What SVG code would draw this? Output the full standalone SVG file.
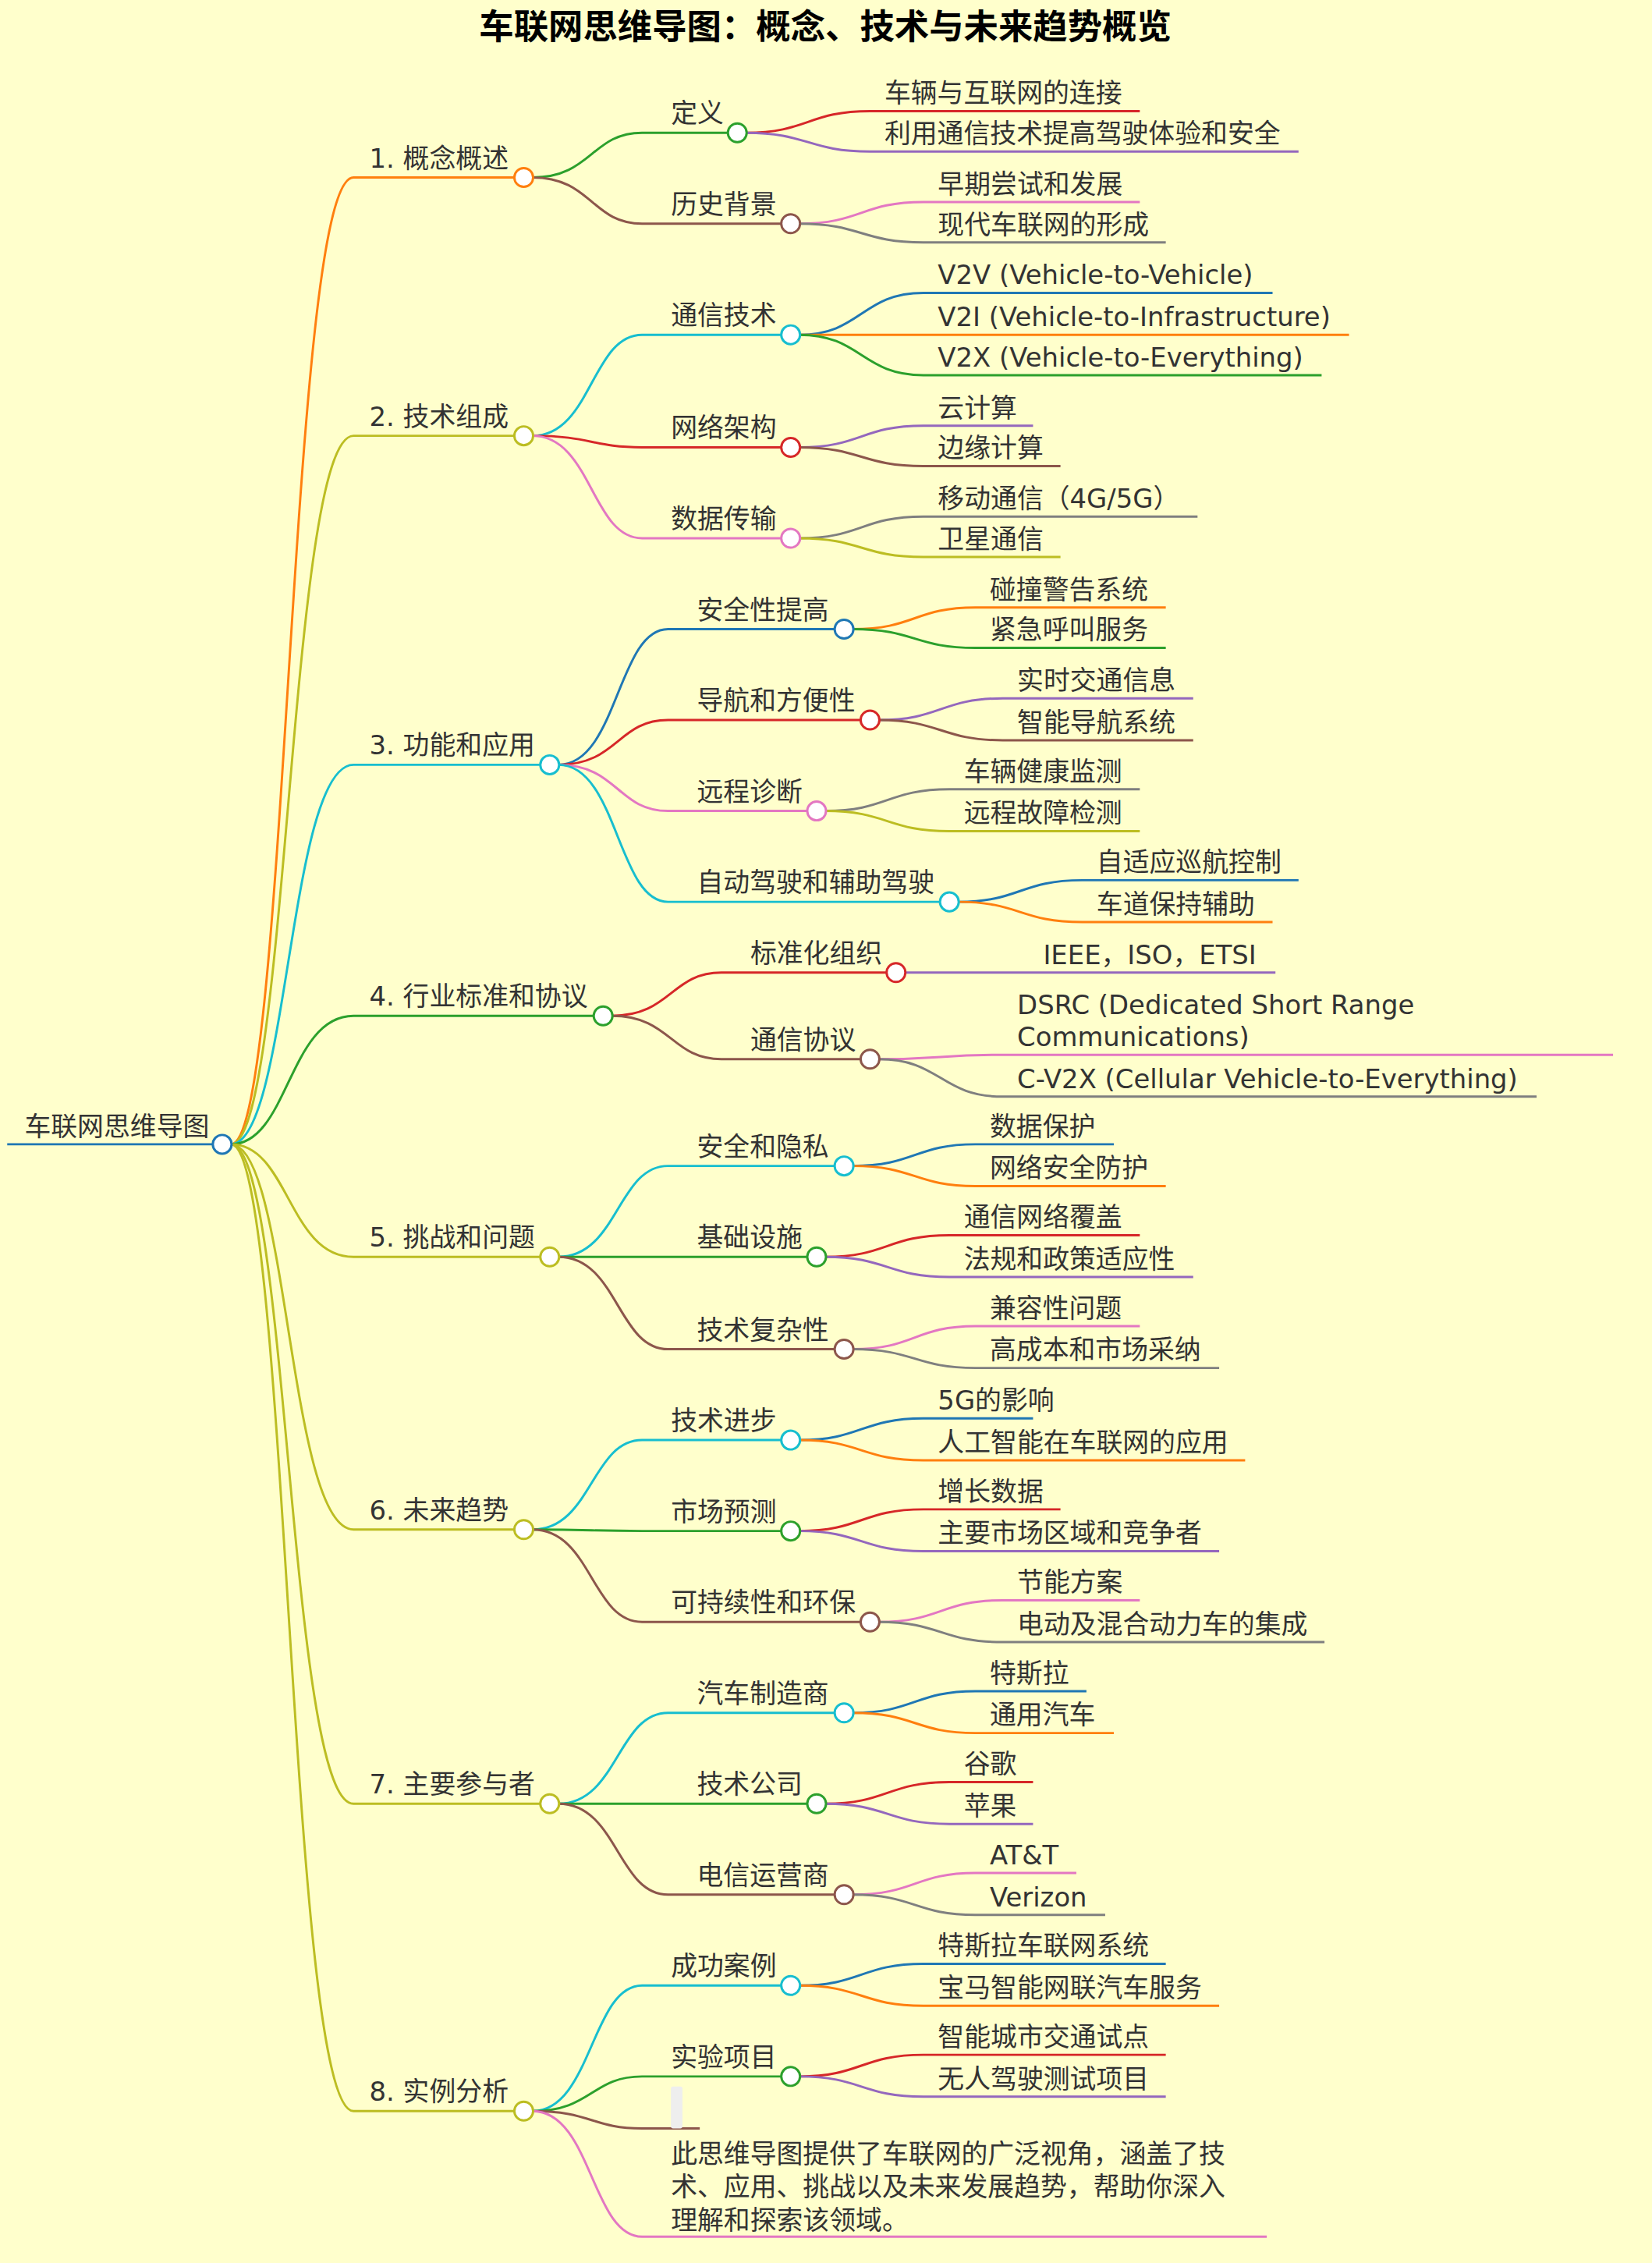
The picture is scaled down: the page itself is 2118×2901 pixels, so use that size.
<svg xmlns="http://www.w3.org/2000/svg" width="2118" height="2901" viewBox="0 0 2118 2901">
<style>
text{font-family:"DejaVu Sans","Noto Sans CJK SC",sans-serif;font-size:18.3px;fill:#333}
.t{font-family:"Noto Sans CJK SC",sans-serif;font-size:24px;font-weight:bold;fill:#000;text-anchor:middle}
path{fill:none;stroke-width:1.6}
circle{fill:#fff;stroke-width:1.6}
.bl{stroke:#1f77b4}.or{stroke:#ff7f0e}.gr{stroke:#2ca02c}.rd{stroke:#d62728}.pu{stroke:#9467bd}.br{stroke:#8c564b}.pk{stroke:#e377c2}.gy{stroke:#7f7f7f}.ol{stroke:#bcbd22}.cy{stroke:#17becf}
</style>
<rect width="2118" height="2901" fill="#ffffcc"/>
<g transform="scale(1.8498)">
<text class="t" x="572" y="27">车联网思维导图：概念、技术与未来趋势概览</text>
<g id="connectors">
<path class="bl" d="M5,793H154"/>
<path class="or" d="M160,793C200,793 200,123 245,123H357"/>
<path class="ol" d="M160,793C200,793 200,302 245,302H357"/>
<path class="cy" d="M160,793C200,793 200,530 245,530H375"/>
<path class="gr" d="M160,793C200,793 200,704 245,704H412"/>
<path class="ol" d="M160,793C200,793 200,871 245,871H375"/>
<path class="ol" d="M160,793C200,793 200,1060 245,1060H357"/>
<path class="ol" d="M160,793C200,793 200,1250 245,1250H375"/>
<path class="ol" d="M160,793C200,793 200,1463 245,1463H357"/>
<path class="gr" d="M369,123C410,123 410,92 445,92H505"/>
<path class="br" d="M369,123C410,123 410,155 445,155H542"/>
<path class="rd" d="M517,92C560,92 560,77 603,77H790"/>
<path class="pu" d="M517,92C560,92 560,105 603,105H900"/>
<path class="pk" d="M554,155C597,155 597,140 640,140H790"/>
<path class="gy" d="M554,155C597,155 597,168 640,168H808"/>
<path class="cy" d="M369,302C410,302 410,232 445,232H542"/>
<path class="rd" d="M369,302C410,302 410,310 445,310H542"/>
<path class="pk" d="M369,302C410,302 410,373 445,373H542"/>
<path class="bl" d="M554,232C597,232 597,203 640,203H882"/>
<path class="or" d="M554,232C597,232 597,232 640,232H935"/>
<path class="gr" d="M554,232C597,232 597,260 640,260H916"/>
<path class="pu" d="M554,310C597,310 597,295 640,295H716"/>
<path class="br" d="M554,310C597,310 597,323 640,323H735"/>
<path class="gy" d="M554,373C597,373 597,358 640,358H830"/>
<path class="ol" d="M554,373C597,373 597,386 640,386H735"/>
<path class="bl" d="M387,530C428,530 428,436 463,436H579"/>
<path class="rd" d="M387,530C428,530 428,499 463,499H597"/>
<path class="pk" d="M387,530C428,530 428,562 463,562H560"/>
<path class="cy" d="M387,530C428,530 428,625 463,625H652"/>
<path class="or" d="M591,436C634,436 634,421 676,421H808"/>
<path class="gr" d="M591,436C634,436 634,449 676,449H808"/>
<path class="pu" d="M609,499C652,499 652,484 695,484H827"/>
<path class="br" d="M609,499C652,499 652,513 695,513H827"/>
<path class="gy" d="M572,562C615,562 615,547 658,547H790"/>
<path class="ol" d="M572,562C615,562 615,576 658,576H790"/>
<path class="bl" d="M664,625C707,625 707,610 750,610H900"/>
<path class="or" d="M664,625C707,625 707,639 750,639H882"/>
<path class="rd" d="M424,704C465,704 465,674 500,674H615"/>
<path class="br" d="M424,704C465,704 465,734 500,734H597"/>
<path class="pu" d="M627,674H884"/>
<path class="pk" d="M609,734C652,734 652,731 695,731H1118"/>
<path class="gy" d="M609,734C652,734 652,760 695,760H1065"/>
<path class="cy" d="M387,871C428,871 428,808 463,808H579"/>
<path class="gr" d="M387,871C428,871 428,871 463,871H560"/>
<path class="br" d="M387,871C428,871 428,935 463,935H579"/>
<path class="bl" d="M591,808C634,808 634,793 676,793H772"/>
<path class="or" d="M591,808C634,808 634,822 676,822H808"/>
<path class="rd" d="M572,871C615,871 615,856 658,856H790"/>
<path class="pu" d="M572,871C615,871 615,885 658,885H827"/>
<path class="pk" d="M591,935C634,935 634,919 676,919H790"/>
<path class="gy" d="M591,935C634,935 634,948 676,948H845"/>
<path class="cy" d="M369,1060C410,1060 410,998 445,998H542"/>
<path class="gr" d="M369,1060C410,1060 410,1061 445,1061H542"/>
<path class="br" d="M369,1060C410,1060 410,1124 445,1124H597"/>
<path class="bl" d="M554,998C597,998 597,983 640,983H716"/>
<path class="or" d="M554,998C597,998 597,1012 640,1012H863"/>
<path class="rd" d="M554,1061C597,1061 597,1046 640,1046H735"/>
<path class="pu" d="M554,1061C597,1061 597,1075 640,1075H845"/>
<path class="pk" d="M609,1124C652,1124 652,1109 695,1109H790"/>
<path class="gy" d="M609,1124C652,1124 652,1138 695,1138H918"/>
<path class="cy" d="M387,1250C428,1250 428,1187 463,1187H579"/>
<path class="gr" d="M387,1250C428,1250 428,1250 463,1250H560"/>
<path class="br" d="M387,1250C428,1250 428,1313 463,1313H579"/>
<path class="bl" d="M591,1187C634,1187 634,1172 676,1172H753"/>
<path class="or" d="M591,1187C634,1187 634,1201 676,1201H772"/>
<path class="rd" d="M572,1250C615,1250 615,1235 658,1235H716"/>
<path class="pu" d="M572,1250C615,1250 615,1264 658,1264H716"/>
<path class="pk" d="M591,1313C634,1313 634,1298 676,1298H746"/>
<path class="gy" d="M591,1313C634,1313 634,1327 676,1327H766"/>
<path class="cy" d="M369,1463C410,1463 410,1376 445,1376H542"/>
<path class="gr" d="M369,1463C410,1463 410,1439 445,1439H542"/>
<path class="br" d="M369,1463C410,1463 410,1475 445,1475H485"/>
<path class="pk" d="M369,1463C410,1463 410,1550 445,1550H878"/>
<path class="bl" d="M554,1376C597,1376 597,1361 640,1361H808"/>
<path class="or" d="M554,1376C597,1376 597,1390 640,1390H845"/>
<path class="rd" d="M554,1439C597,1439 597,1424 640,1424H808"/>
<path class="pu" d="M554,1439C597,1439 597,1453 640,1453H808"/>
</g>
<g id="root"><text x="17" y="787">车联网思维导图</text><circle class="bl" cx="154" cy="793" r="6.5"/></g>
<g id="n1"><text x="256" y="116">1. 概念概述</text><circle class="or" cx="363" cy="123" r="6.5"/></g>
<g id="n1a"><text x="465" y="85">定义</text><circle class="gr" cx="511" cy="92" r="6.5"/></g>
<g id="n1a1"><text x="613" y="71">车辆与互联网的连接</text></g>
<g id="n1a2"><text x="613" y="99">利用通信技术提高驾驶体验和安全</text></g>
<g id="n1b"><text x="465" y="148">历史背景</text><circle class="br" cx="548" cy="155" r="6.5"/></g>
<g id="n1b1"><text x="650" y="134">早期尝试和发展</text></g>
<g id="n1b2"><text x="650" y="162">现代车联网的形成</text></g>
<g id="n2"><text x="256" y="295">2. 技术组成</text><circle class="ol" cx="363" cy="302" r="6.5"/></g>
<g id="n2a"><text x="465" y="225">通信技术</text><circle class="cy" cx="548" cy="232" r="6.5"/></g>
<g id="n2a1"><text x="650" y="197">V2V (Vehicle-to-Vehicle)</text></g>
<g id="n2a2"><text x="650" y="226">V2I (Vehicle-to-Infrastructure)</text></g>
<g id="n2a3"><text x="650" y="254">V2X (Vehicle-to-Everything)</text></g>
<g id="n2b"><text x="465" y="303">网络架构</text><circle class="rd" cx="548" cy="310" r="6.5"/></g>
<g id="n2b1"><text x="650" y="289">云计算</text></g>
<g id="n2b2"><text x="650" y="317">边缘计算</text></g>
<g id="n2c"><text x="465" y="366">数据传输</text><circle class="pk" cx="548" cy="373" r="6.5"/></g>
<g id="n2c1"><text x="650" y="352">移动通信（4G/5G）</text></g>
<g id="n2c2"><text x="650" y="380">卫星通信</text></g>
<g id="n3"><text x="256" y="523">3. 功能和应用</text><circle class="cy" cx="381" cy="530" r="6.5"/></g>
<g id="n3a"><text x="483" y="429">安全性提高</text><circle class="bl" cx="585" cy="436" r="6.5"/></g>
<g id="n3a1"><text x="686" y="415">碰撞警告系统</text></g>
<g id="n3a2"><text x="686" y="443">紧急呼叫服务</text></g>
<g id="n3b"><text x="483" y="492">导航和方便性</text><circle class="rd" cx="603" cy="499" r="6.5"/></g>
<g id="n3b1"><text x="705" y="478">实时交通信息</text></g>
<g id="n3b2"><text x="705" y="507">智能导航系统</text></g>
<g id="n3c"><text x="483" y="555">远程诊断</text><circle class="pk" cx="566" cy="562" r="6.5"/></g>
<g id="n3c1"><text x="668" y="541">车辆健康监测</text></g>
<g id="n3c2"><text x="668" y="570">远程故障检测</text></g>
<g id="n3d"><text x="483" y="618">自动驾驶和辅助驾驶</text><circle class="cy" cx="658" cy="625" r="6.5"/></g>
<g id="n3d1"><text x="760" y="604">自适应巡航控制</text></g>
<g id="n3d2"><text x="760" y="633">车道保持辅助</text></g>
<g id="n4"><text x="256" y="697">4. 行业标准和协议</text><circle class="gr" cx="418" cy="704" r="6.5"/></g>
<g id="n4a"><text x="520" y="667">标准化组织</text><circle class="rd" cx="621" cy="674" r="6.5"/></g>
<g id="n4a1"><text x="723" y="668">IEEE，ISO，ETSI</text></g>
<g id="n4b"><text x="520" y="727">通信协议</text><circle class="br" cx="603" cy="734" r="6.5"/></g>
<g id="n4b1"><text x="705" y="703">DSRC (Dedicated Short Range</text><text x="705" y="725">Communications)</text></g>
<g id="n4b2"><text x="705" y="754">C-V2X (Cellular Vehicle-to-Everything)</text></g>
<g id="n5"><text x="256" y="864">5. 挑战和问题</text><circle class="ol" cx="381" cy="871" r="6.5"/></g>
<g id="n5a"><text x="483" y="801">安全和隐私</text><circle class="cy" cx="585" cy="808" r="6.5"/></g>
<g id="n5a1"><text x="686" y="787">数据保护</text></g>
<g id="n5a2"><text x="686" y="816">网络安全防护</text></g>
<g id="n5b"><text x="483" y="864">基础设施</text><circle class="gr" cx="566" cy="871" r="6.5"/></g>
<g id="n5b1"><text x="668" y="850">通信网络覆盖</text></g>
<g id="n5b2"><text x="668" y="879">法规和政策适应性</text></g>
<g id="n5c"><text x="483" y="928">技术复杂性</text><circle class="br" cx="585" cy="935" r="6.5"/></g>
<g id="n5c1"><text x="686" y="913">兼容性问题</text></g>
<g id="n5c2"><text x="686" y="942">高成本和市场采纳</text></g>
<g id="n6"><text x="256" y="1053">6. 未来趋势</text><circle class="ol" cx="363" cy="1060" r="6.5"/></g>
<g id="n6a"><text x="465" y="991">技术进步</text><circle class="cy" cx="548" cy="998" r="6.5"/></g>
<g id="n6a1"><text x="650" y="977">5G的影响</text></g>
<g id="n6a2"><text x="650" y="1006">人工智能在车联网的应用</text></g>
<g id="n6b"><text x="465" y="1054">市场预测</text><circle class="gr" cx="548" cy="1061" r="6.5"/></g>
<g id="n6b1"><text x="650" y="1040">增长数据</text></g>
<g id="n6b2"><text x="650" y="1069">主要市场区域和竞争者</text></g>
<g id="n6c"><text x="465" y="1117">可持续性和环保</text><circle class="br" cx="603" cy="1124" r="6.5"/></g>
<g id="n6c1"><text x="705" y="1103">节能方案</text></g>
<g id="n6c2"><text x="705" y="1132">电动及混合动力车的集成</text></g>
<g id="n7"><text x="256" y="1243">7. 主要参与者</text><circle class="ol" cx="381" cy="1250" r="6.5"/></g>
<g id="n7a"><text x="483" y="1180">汽车制造商</text><circle class="cy" cx="585" cy="1187" r="6.5"/></g>
<g id="n7a1"><text x="686" y="1166">特斯拉</text></g>
<g id="n7a2"><text x="686" y="1195">通用汽车</text></g>
<g id="n7b"><text x="483" y="1243">技术公司</text><circle class="gr" cx="566" cy="1250" r="6.5"/></g>
<g id="n7b1"><text x="668" y="1229">谷歌</text></g>
<g id="n7b2"><text x="668" y="1258">苹果</text></g>
<g id="n7c"><text x="483" y="1306">电信运营商</text><circle class="br" cx="585" cy="1313" r="6.5"/></g>
<g id="n7c1"><text x="686" y="1292">AT&amp;T</text></g>
<g id="n7c2"><text x="686" y="1321">Verizon</text></g>
<g id="n8"><text x="256" y="1456">8. 实例分析</text><circle class="ol" cx="363" cy="1463" r="6.5"/></g>
<g id="n8a"><text x="465" y="1369">成功案例</text><circle class="cy" cx="548" cy="1376" r="6.5"/></g>
<g id="n8a1"><text x="650" y="1355">特斯拉车联网系统</text></g>
<g id="n8a2"><text x="650" y="1384">宝马智能网联汽车服务</text></g>
<g id="n8b"><text x="465" y="1432">实验项目</text><circle class="gr" cx="548" cy="1439" r="6.5"/></g>
<g id="n8b1"><text x="650" y="1418">智能城市交通试点</text></g>
<g id="n8b2"><text x="650" y="1447">无人驾驶测试项目</text></g>
<g id="n8c"><rect x="465" y="1446" width="8" height="29" rx="1.5" fill="#eeeeee"/></g>
<g id="n8d"><text x="465" y="1499">此思维导图提供了车联网的广泛视角，涵盖了技</text><text x="465" y="1522">术、应用、挑战以及未来发展趋势，帮助你深入</text><text x="465" y="1545">理解和探索该领域。</text></g>
</g>
</svg>
